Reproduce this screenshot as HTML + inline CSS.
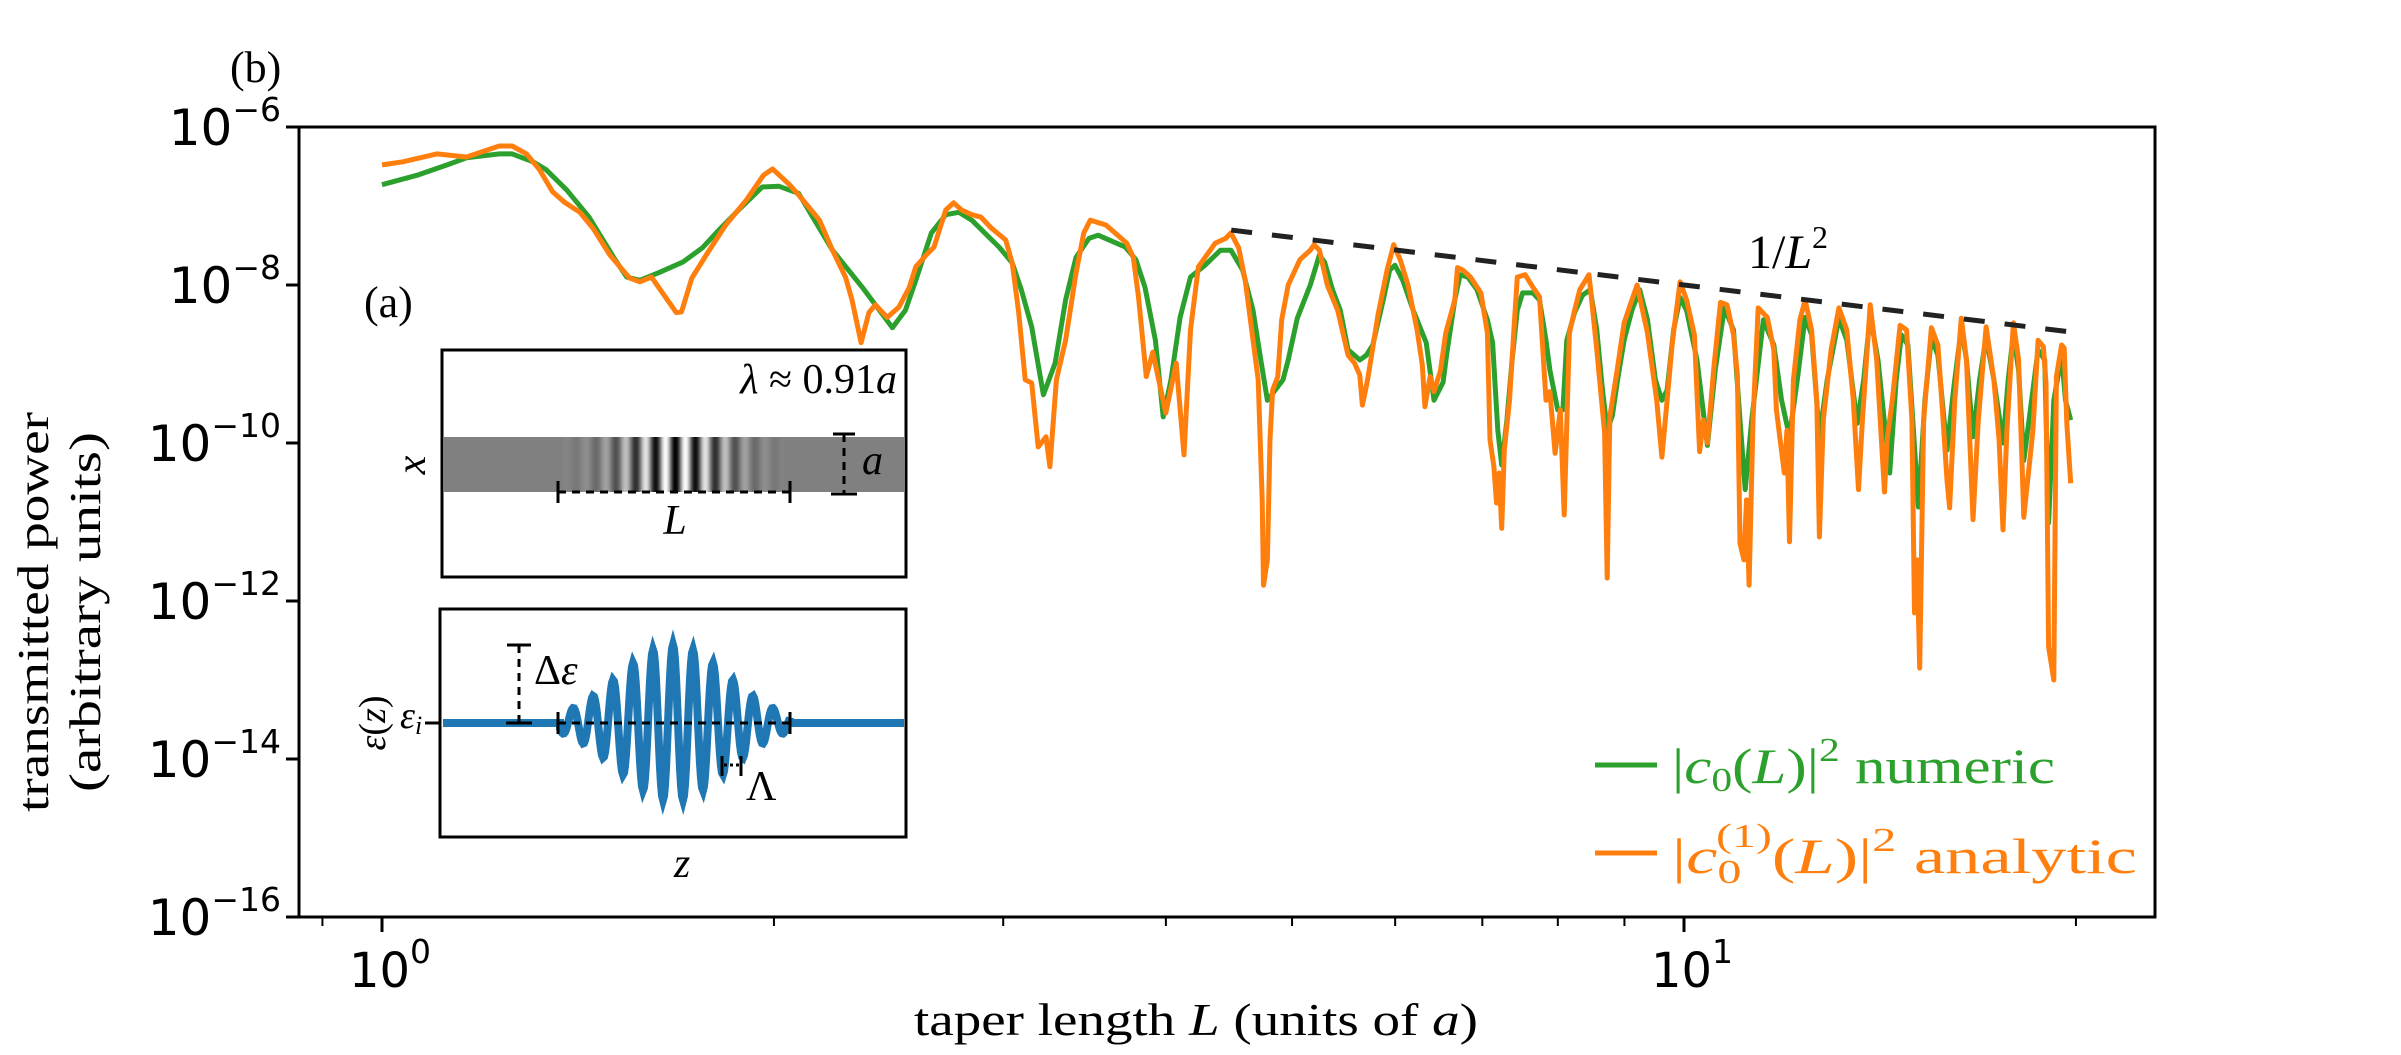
<!DOCTYPE html>
<html><head><meta charset="utf-8"><style>
html,body{margin:0;padding:0;background:#fff;}
svg{display:block;}
text{font-family:"Liberation Serif",serif;}
.tk{font-family:"DejaVu Sans","Liberation Sans",sans-serif;}
</style></head><body>
<svg id="chart" width="2401" height="1055" viewBox="0 0 2401 1055" xmlns="http://www.w3.org/2000/svg">
<defs><clipPath id="plotclip"><rect x="299" y="127" width="1856" height="790"/></clipPath></defs>
<g id="ticks"></g>
<g id="series" clip-path="url(#plotclip)"></g>
<rect x="299" y="127" width="1856" height="790" fill="none" stroke="#000" stroke-width="3"/>
<text x="230" y="82" font-size="44">(b)</text>
<text x="364" y="317" font-size="44">(a)</text>
<text x="1748" y="268" font-size="48">1/<tspan font-style="italic">L</tspan><tspan dy="-20" font-size="32">2</tspan></text>
<g font-size="44">
<text transform="translate(48,612) rotate(-90)" text-anchor="middle" textLength="400" lengthAdjust="spacingAndGlyphs">transmitted power</text>
<text transform="translate(100,612) rotate(-90)" text-anchor="middle" textLength="360" lengthAdjust="spacingAndGlyphs">(arbitrary units)</text>
</g>
<text x="914" y="1035" font-size="46" textLength="564" lengthAdjust="spacingAndGlyphs">taper length <tspan font-style="italic">L</tspan> (units of <tspan font-style="italic">a</tspan>)</text>
<g>
<line x1="1595" y1="765" x2="1657" y2="765" stroke="#2ca02c" stroke-width="5"/>
<text x="1672" y="783" font-size="50" fill="#2ca02c" textLength="383" lengthAdjust="spacingAndGlyphs">|<tspan font-style="italic">c</tspan><tspan font-size="34" dy="8">0</tspan><tspan dy="-8">(</tspan><tspan font-style="italic">L</tspan>)|<tspan font-size="34" dy="-22">2</tspan><tspan dy="22"> numeric</tspan></text>
<line x1="1595" y1="853" x2="1657" y2="853" stroke="#ff7f0e" stroke-width="5"/>
<text x="1672" y="873" font-size="50" fill="#ff7f0e" textLength="465" lengthAdjust="spacingAndGlyphs">|<tspan font-style="italic">c</tspan><tspan font-size="34" dy="10">0</tspan><tspan font-size="34" dx="-18" dy="-36">(1)</tspan><tspan dy="26">(</tspan><tspan font-style="italic">L</tspan>)|<tspan font-size="34" dy="-22">2</tspan><tspan dy="22"> analytic</tspan></text>
</g>
<g id="inset1">
<rect x="442" y="350" width="464" height="227" fill="#fff" stroke="#000" stroke-width="3"/>
<rect x="443" y="437" width="462" height="55" fill="#808080"/>
<g id="stripes"></g>
<text x="897" y="393" font-size="42" text-anchor="end"><tspan font-style="italic">λ</tspan> ≈ 0.91<tspan font-style="italic">a</tspan></text>
<line x1="558" y1="492" x2="790" y2="492" stroke="#000" stroke-width="3" stroke-dasharray="8,6"/>
<line x1="558" y1="481" x2="558" y2="503" stroke="#000" stroke-width="3"/>
<line x1="790" y1="481" x2="790" y2="503" stroke="#000" stroke-width="3"/>
<text x="675" y="534" font-size="42" font-style="italic" text-anchor="middle">L</text>
<line x1="844" y1="434" x2="844" y2="494" stroke="#000" stroke-width="3" stroke-dasharray="8,6"/>
<line x1="833" y1="434" x2="855" y2="434" stroke="#000" stroke-width="3"/>
<line x1="831" y1="494" x2="857" y2="494" stroke="#000" stroke-width="3"/>
<text x="862" y="474" font-size="42" font-style="italic">a</text>
<text transform="translate(425,465) rotate(-90)" font-size="42" font-style="italic" text-anchor="middle">x</text>
</g>
<g id="inset2">
<rect x="440" y="609" width="466" height="228" fill="#fff" stroke="#000" stroke-width="3"/>
<path id="wave" fill="none" stroke="#1f77b4" stroke-width="8"/>
<line x1="558" y1="723" x2="790" y2="723" stroke="#000" stroke-width="3" stroke-dasharray="8,6"/>
<line x1="558" y1="712" x2="558" y2="734" stroke="#000" stroke-width="3"/>
<line x1="790" y1="712" x2="790" y2="734" stroke="#000" stroke-width="3"/>
<line x1="519" y1="645" x2="519" y2="723" stroke="#000" stroke-width="3" stroke-dasharray="8,6"/>
<line x1="507" y1="645" x2="531" y2="645" stroke="#000" stroke-width="3"/>
<line x1="506" y1="723" x2="532" y2="723" stroke="#000" stroke-width="3"/>
<text x="534" y="684" font-size="42"><tspan>Δ</tspan><tspan font-style="italic">ε</tspan></text>
<line x1="722" y1="756" x2="722" y2="776" stroke="#000" stroke-width="3"/>
<line x1="741" y1="756" x2="741" y2="776" stroke="#000" stroke-width="3"/>
<line x1="724" y1="765" x2="739" y2="765" stroke="#000" stroke-width="3" stroke-dasharray="3,3"/>
<text x="746" y="800" font-size="42">Λ</text>
<text x="682" y="877" font-size="42" font-style="italic" text-anchor="middle">z</text>
<line x1="425" y1="723" x2="440" y2="723" stroke="#000" stroke-width="3"/>
<text x="400" y="728" font-size="38"><tspan font-style="italic">ε</tspan><tspan font-size="26" font-style="italic" dy="6">i</tspan></text>
<text transform="translate(385,723) rotate(-90)" font-size="38" text-anchor="middle"><tspan font-style="italic">ε</tspan>(<tspan font-style="italic">z</tspan>)</text>
</g>
</svg>
<script>
// ---- chart data (log10 of taper length L, log10 of transmitted power) ----
const yTickExps = [-6, -8, -10, -12, -14, -16];
const xTickExps = [0, 1];
const xMinorVals = [0.9, 2, 3, 4, 5, 6, 7, 8, 9, 20];
const slopeRange = [4.49, 19.8];
const slopeCoef = -6.0; // log10 prefactor of 1/L^2
const numericLogL = [0,.027,.050,.065,.090,.100,.116,.126,.142,.159,.179,.188,.198,.213,.231,.246,.259,.274,.292,.305,.320,.346,.369,.392,.402,.410,.422,.433,.443,.453,.474,.484,.491,.499,.508,.517,.525,.533,.543,.550,.571,.579,.586,.594,.600,.606,.613,.621,.632,.644,.652,.661,.669,.675,.680,.686,.692,.696,.703,.713,.720,.724,.730,.736,.742,.751,.756,.761,.769,.774,.778,.784,.792,.802,.808,.815,.818,.824,.828,.834,.841,.849,.853,.857,.860,.864,.868,.872,.876,.884,.889,.894,.897,.903,.907,.910,.916,.922,.928,.933,.937,.941,.945,.949,.954,.960,.966,.972,.978,.983,.987,.992,.997,1.002,1.010,1.018,1.024,1.031,1.038,1.043,1.047,1.052,1.061,1.069,1.075,1.081,1.087,1.093,1.098,1.104,1.110,1.119,1.125,1.133,1.138,1.143,1.149,1.158,1.163,1.167,1.172,1.180,1.185,1.190,1.195,1.202,1.207,1.213,1.217,1.222,1.227,1.232,1.238,1.245,1.249,1.253,1.257,1.261,1.267,1.272,1.277,1.280,1.284,1.290,1.293,1.297];
const numericLogP = [-6.73,-6.61,-6.48,-6.39,-6.34,-6.34,-6.44,-6.54,-6.80,-7.14,-7.68,-7.90,-7.94,-7.84,-7.71,-7.53,-7.30,-7.05,-6.76,-6.75,-6.84,-7.56,-8.03,-8.54,-8.32,-7.94,-7.34,-7.11,-7.08,-7.18,-7.52,-7.72,-8.06,-8.53,-9.39,-8.99,-8.19,-7.65,-7.41,-7.37,-7.52,-7.68,-8.03,-8.70,-9.67,-9.20,-8.41,-7.90,-7.75,-7.56,-7.56,-7.81,-8.32,-8.95,-9.46,-9.33,-9.20,-8.95,-8.42,-8.00,-7.62,-7.71,-8.06,-8.32,-8.82,-8.95,-8.89,-8.76,-8.19,-7.81,-7.75,-7.94,-8.32,-8.73,-9.46,-9.23,-8.85,-8.19,-7.87,-7.90,-8.06,-8.44,-8.73,-9.84,-10.28,-9.71,-8.95,-8.32,-8.10,-8.10,-8.19,-8.70,-9.08,-9.58,-9.58,-8.70,-8.35,-8.13,-8.06,-8.57,-9.27,-9.84,-9.65,-9.20,-8.70,-8.32,-8.06,-8.44,-9.20,-9.46,-9.33,-8.57,-8.16,-8.32,-8.95,-10.03,-9.08,-8.29,-8.57,-9.71,-10.59,-9.71,-8.44,-8.76,-9.46,-9.92,-9.20,-8.41,-8.63,-9.92,-9.20,-8.42,-8.70,-9.75,-9.20,-8.38,-8.95,-10.38,-9.20,-8.63,-8.76,-10.81,-9.46,-8.67,-8.89,-10.09,-9.33,-8.54,-8.95,-9.92,-9.20,-8.66,-9.20,-10.00,-9.20,-8.61,-9.08,-10.22,-9.46,-8.82,-8.95,-11.01,-9.46,-8.89,-9.46,-9.71];
const analyticLogL = [0,.016,.042,.065,.090,.100,.111,.121,.131,.140,.152,.162,.175,.190,.198,.207,.215,.226,.230,.238,.249,.264,.280,.293,.300,.313,.320,.336,.346,.356,.361,.368,.374,.379,.388,.397,.405,.410,.418,.424,.433,.439,.445,.453,.460,.468,.479,.484,.489,.494,.499,.504,.510,.513,.518,.525,.533,.539,.544,.556,.563,.572,.577,.581,.587,.592,.602,.610,.616,.621,.627,.640,.648,.652,.658,.663,.667,.673,.676,.677,.680,.682,.684,.688,.691,.696,.705,.713,.716,.720,.726,.734,.742,.747,.751,.753,.757,.765,.772,.777,.782,.788,.795,.799,.801,.805,.808,.813,.817,.824,.826,.830,.836,.844,.849,.851,.854,.856,.858,.860,.862,.866,.870,.872,.878,.884,.889,.894,.897,.901,.905,.908,.912,.916,.920,.927,.933,.939,.941,.943,.949,.954,.960,.964,.972,.979,.983,.987,.991,.997,1.002,1.008,1.012,1.015,1.018,1.023,1.028,1.033,1.038,1.041,1.043,1.046,1.048,1.050,1.053,1.057,1.064,1.069,1.071,1.077,1.079,1.081,1.084,1.089,1.093,1.098,1.102,1.104,1.107,1.113,1.119,1.125,1.130,1.134,1.137,1.143,1.148,1.154,1.156,1.160,1.166,1.171,1.175,1.177,1.179,1.181,1.184,1.190,1.195,1.199,1.202,1.204,1.208,1.213,1.217,1.222,1.226,1.232,1.238,1.242,1.245,1.248,1.253,1.257,1.261,1.268,1.272,1.276,1.278,1.280,1.284,1.286,1.290,1.292,1.294,1.297];
const analyticLogP = [-6.48,-6.44,-6.34,-6.38,-6.24,-6.24,-6.34,-6.54,-6.82,-6.95,-7.08,-7.28,-7.62,-7.91,-7.96,-7.90,-8.09,-8.35,-8.34,-7.91,-7.62,-7.24,-6.92,-6.61,-6.53,-6.73,-6.86,-7.18,-7.56,-7.90,-8.19,-8.73,-8.35,-8.25,-8.41,-8.28,-8.03,-7.77,-7.62,-7.52,-7.05,-6.96,-7.05,-7.11,-7.14,-7.28,-7.43,-7.72,-8.35,-9.20,-9.24,-10.05,-9.92,-10.30,-9.20,-8.70,-7.85,-7.34,-7.18,-7.24,-7.34,-7.47,-7.65,-8.15,-9.16,-8.85,-9.62,-8.99,-10.15,-8.57,-7.77,-7.47,-7.41,-7.34,-7.53,-7.94,-8.44,-9.20,-10.72,-11.80,-11.48,-9.96,-9.33,-9.16,-8.44,-8.00,-7.68,-7.56,-7.49,-7.56,-8.00,-8.32,-8.89,-8.99,-9.14,-9.52,-9.20,-8.38,-7.81,-7.49,-7.68,-8.00,-8.57,-9.01,-9.54,-9.16,-9.35,-9.08,-8.61,-8.19,-7.78,-7.81,-7.90,-8.10,-8.61,-9.96,-10.30,-10.76,-10.38,-11.08,-10.09,-9.46,-8.41,-7.90,-7.87,-8.03,-8.15,-9.46,-9.35,-10.13,-9.58,-10.91,-8.61,-8.32,-8.06,-7.87,-8.82,-9.87,-11.71,-9.67,-9.04,-8.48,-8.19,-8.00,-8.61,-9.46,-10.18,-9.46,-8.73,-7.96,-8.19,-8.63,-10.11,-9.71,-10.00,-9.04,-8.22,-8.25,-8.63,-9.14,-11.27,-11.48,-10.72,-11.80,-9.71,-8.29,-8.41,-8.82,-9.58,-10.38,-9.84,-11.25,-9.20,-8.44,-8.19,-8.57,-9.46,-11.19,-9.71,-8.82,-8.29,-8.57,-9.46,-10.59,-9.71,-8.25,-8.95,-10.62,-9.96,-9.46,-8.51,-8.57,-9.71,-12.15,-11.48,-12.85,-9.71,-8.54,-8.76,-9.71,-10.47,-10.82,-9.46,-8.42,-8.95,-10.97,-9.71,-8.53,-9.20,-9.96,-11.10,-9.84,-8.48,-8.95,-10.94,-9.84,-8.70,-8.78,-9.24,-12.58,-13.00,-9.16,-8.76,-8.80,-9.75,-10.51];

// ---- axis functions ----
const X0 = 382, XDEC = 1302, YTOP = 127, YDEC = 79;
function xScale(logL){ return X0 + logL * XDEC; }
function yScale(logP){ return YTOP + (-6 - logP) * YDEC; }
const NS = 'http://www.w3.org/2000/svg';
function mk(tag, attrs, parent){ const e = document.createElementNS(NS, tag); for (const k in attrs) e.setAttribute(k, attrs[k]); parent.appendChild(e); return e; }

const ticks = document.getElementById('ticks');
yTickExps.forEach(function(ex){
  const y = yScale(ex);
  const t = mk('line', {x1:286, y1:y, x2:299, y2:y, stroke:'#000', 'stroke-width':3}, ticks);
  
  
  const lab = mk('text', {x:281, y:y+18, 'text-anchor':'end', 'font-size':50, class:'tk'}, ticks);
  
  
  lab.textContent = '10';
  const sup = mk('tspan', {dy:-24, 'font-size':33}, lab);
  sup.textContent = '\u2212' + Math.abs(ex);
});
xTickExps.forEach(function(ex){
  const x = xScale(ex);
  const t = mk('line', {x1:x, y1:917, x2:x, y2:932, stroke:'#000', 'stroke-width':3}, ticks);
  
  
  const lab = mk('text', {x:x+8, y:987, 'text-anchor':'middle', 'font-size':48, class:'tk'}, ticks);
  
  
  lab.textContent = '10';
  const sup = mk('tspan', {dy:-24, 'font-size':33}, lab);
  sup.textContent = String(ex);
});
xMinorVals.forEach(function(v){
  const x = xScale(Math.log10(v));
  const t = mk('line', {x1:x, y1:917, x2:x, y2:926, stroke:'#000', 'stroke-width':2}, ticks);
  
  
});

const series = document.getElementById('series');
function pathFrom(lx, ly){ let d=''; for (let i=0;i<lx.length;i++){ d += (i?'L':'M') + xScale(lx[i]).toFixed(1) + ',' + yScale(ly[i]).toFixed(1); } return d; }
const g1 = mk('path', {d:pathFrom(numericLogL, numericLogP), fill:'none', stroke:'#2ca02c', 'stroke-width':5, 'stroke-linejoin':'round'}, series);


const g2 = mk('path', {d:pathFrom(analyticLogL, analyticLogP), fill:'none', stroke:'#ff7f0e', 'stroke-width':5, 'stroke-linejoin':'round'}, series);


const l0 = Math.log10(slopeRange[0]), l1 = Math.log10(slopeRange[1]);
const sl = mk('line', {x1:xScale(l0), y1:yScale(slopeCoef-2*l0), x2:xScale(l1), y2:yScale(slopeCoef-2*l1), stroke:'#222', 'stroke-width':5, 'stroke-dasharray':'21,20'}, series);



// ---- inset decorations ----
const stripes = document.getElementById('stripes');
for (let x = 563; x < 783; x++){
  const env = Math.exp(-Math.pow((x-675)/60, 2));
  const g = Math.round(128 - 125*env*Math.cos(2*Math.PI*(x-675)/20));
  mk('rect', {x:x, y:437, width:1.2, height:55, fill:'rgb('+g+','+g+','+g+')'}, stripes);
}
let wd = 'M443,723 L560,723';
for (let x = 560; x <= 790; x++){
  const amp = 78*Math.exp(-Math.pow(x-673,2)/(2*55*55));
  wd += ' L' + x + ',' + (723 - amp*Math.cos(2*Math.PI*(x-673)/20)).toFixed(1);
}
wd += ' L790,723 L904,723';
document.getElementById('wave').setAttribute('d', wd);
</script>
</body></html>
